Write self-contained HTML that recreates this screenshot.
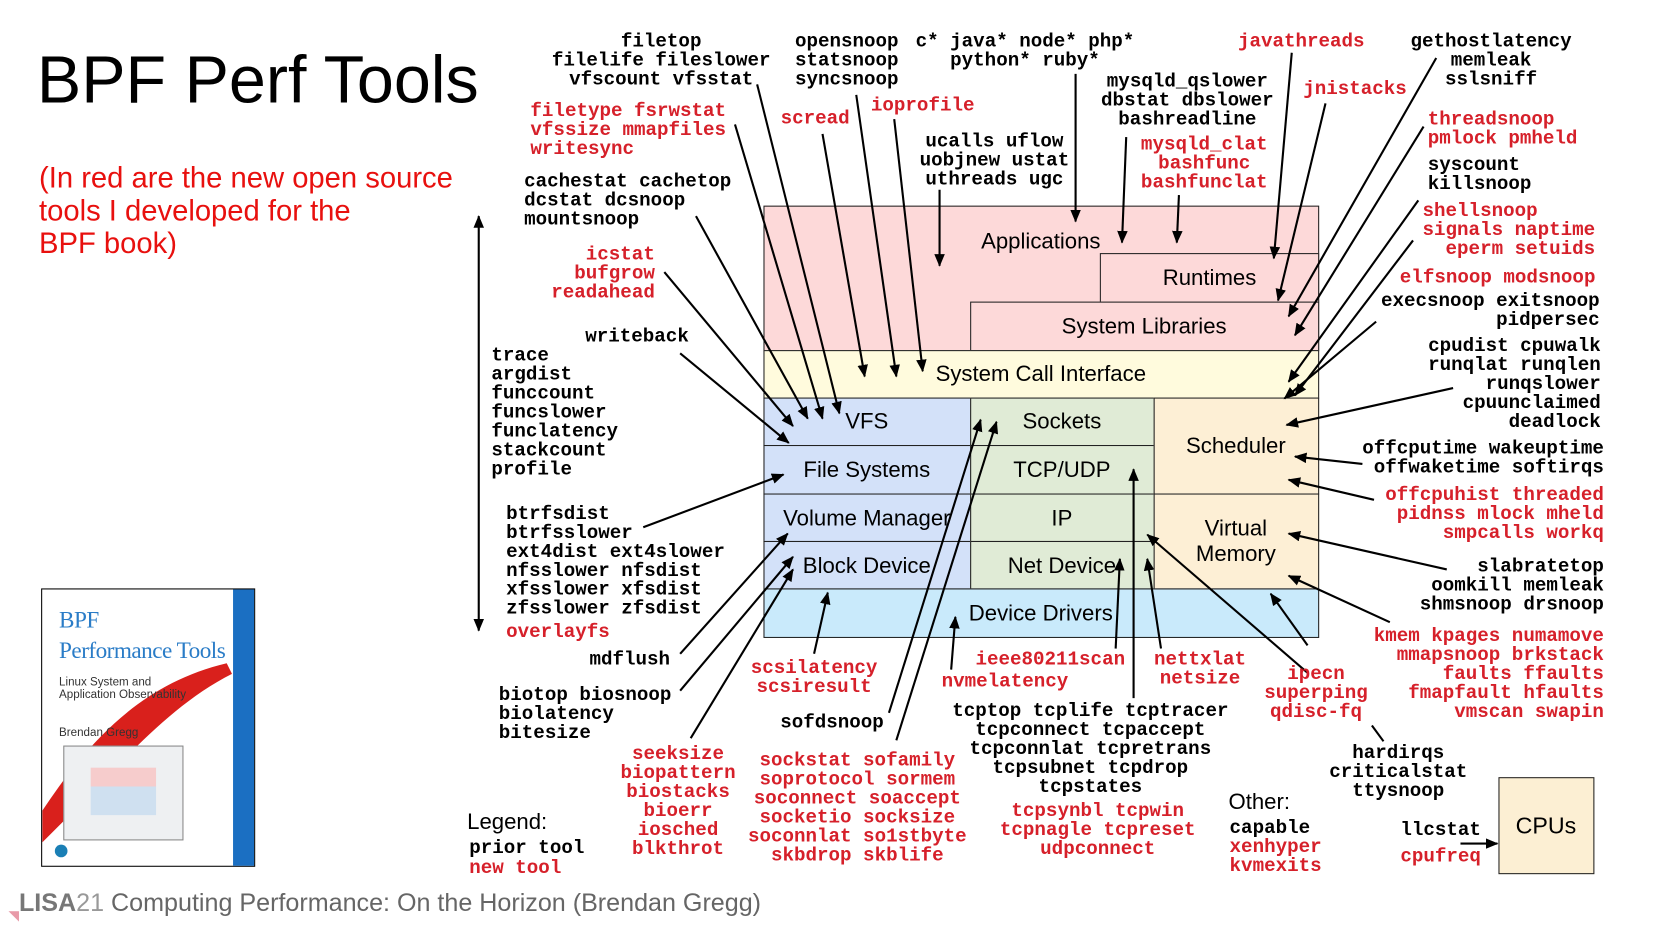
<!DOCTYPE html>
<html><head><meta charset="utf-8"><style>
html,body{margin:0;padding:0;background:#fff;overflow:hidden;width:1654px;height:931px}
#w{position:absolute;left:0;top:0;width:1570px;height:883px;transform:scale(1.0545);transform-origin:0 0}
.t{position:absolute;font:bold 18.2px/18px "Liberation Mono",monospace;white-space:pre;color:#000;margin-top:2px}
.r{color:#d6202a}
.c{transform:translateX(-50%);text-align:center}
.ra{transform:translateX(-100%);text-align:right}
.s{position:absolute;font:21px "Liberation Sans",sans-serif;white-space:pre}
.bx{position:absolute;border:1.5px solid #222;box-sizing:border-box}
.lb{position:absolute;font:21px/21px "Liberation Sans",sans-serif;transform:translate(-50%,-50%);text-align:center;white-space:pre;margin-top:1px}
</style></head><body><div id="w">
<div class="s" style="left:35px;top:40px;font-size:63px">BPF Perf Tools</div>
<div class="s" style="left:37px;top:153px;font-size:27.7px;line-height:31px;color:#e8100e">(In red are the new open source
tools I developed for the
BPF book)</div>

<div class="bx" style="left:724px;top:195px;width:527px;height:138px;background:#fdd9d9"></div>
<div class="bx" style="left:1043px;top:240px;width:208px;height:47px;background:#fdd9d9"></div>
<div class="bx" style="left:920px;top:286px;width:331px;height:47px;background:#fdd9d9"></div>
<div class="bx" style="left:724px;top:332px;width:527px;height:46px;background:#fffbdd"></div>
<div class="bx" style="left:724px;top:377px;width:197px;height:46px;background:#d3e1f9"></div>
<div class="bx" style="left:724px;top:422px;width:197px;height:47px;background:#d3e1f9"></div>
<div class="bx" style="left:724px;top:468px;width:197px;height:46px;background:#d3e1f9"></div>
<div class="bx" style="left:724px;top:513px;width:197px;height:46px;background:#d3e1f9"></div>
<div class="bx" style="left:920px;top:377px;width:175px;height:46px;background:#e0ebd6"></div>
<div class="bx" style="left:920px;top:422px;width:175px;height:47px;background:#e0ebd6"></div>
<div class="bx" style="left:920px;top:468px;width:175px;height:46px;background:#e0ebd6"></div>
<div class="bx" style="left:920px;top:513px;width:175px;height:46px;background:#e0ebd6"></div>
<div class="bx" style="left:1094px;top:377px;width:157px;height:92px;background:#fdefd5"></div>
<div class="bx" style="left:1094px;top:468px;width:157px;height:91px;background:#fdefd5"></div>
<div class="bx" style="left:724px;top:558px;width:527px;height:47px;background:#c9eafb"></div>
<div class="bx" style="left:1421px;top:737px;width:91px;height:92px;background:#fcefd3"></div>

<div class="lb" style="left:987px;top:228px">Applications</div>
<div class="lb" style="left:1147px;top:263px">Runtimes</div>
<div class="lb" style="left:1085px;top:309px">System Libraries</div>
<div class="lb" style="left:987px;top:354px">System Call Interface</div>
<div class="lb" style="left:822px;top:399px">VFS</div>
<div class="lb" style="left:822px;top:445px">File Systems</div>
<div class="lb" style="left:822px;top:491px">Volume Manager</div>
<div class="lb" style="left:822px;top:536px">Block Device</div>
<div class="lb" style="left:1007px;top:399px">Sockets</div>
<div class="lb" style="left:1007px;top:445px">TCP/UDP</div>
<div class="lb" style="left:1007px;top:491px">IP</div>
<div class="lb" style="left:1007px;top:536px">Net Device</div>
<div class="lb" style="left:1172px;top:422px">Scheduler</div>
<div class="lb" style="left:1172px;top:513px;line-height:24px">Virtual
Memory</div>
<div class="lb" style="left:987px;top:581px">Device Drivers</div>
<div class="lb" style="left:1466px;top:782px;font-size:22px">CPUs</div>

<div style="position:absolute;left:39px;top:558px;width:203px;height:264px;border:1px solid #000;box-sizing:border-box;background:#fff;overflow:hidden">
<svg width="203" height="264" style="position:absolute;left:0;top:0"><path d="M0 210 C40 150 90 90 175 70 L180 80 C120 110 70 170 40 200 L0 240Z" fill="#d9201c"/></svg>
<div style="position:absolute;right:0;top:0;width:20px;height:264px;background:#1b6fc2"></div>
<div style="position:absolute;left:16px;top:14px;font:22px/29px 'Liberation Serif',serif;color:#2a7cc7;white-space:pre;letter-spacing:-0.5px">BPF
Performance Tools</div>
<div style="position:absolute;left:16px;top:82px;font:11px/12px 'Liberation Sans',sans-serif;color:#333;white-space:pre">Linux System and
Application Observability</div>
<div style="position:absolute;left:16px;top:130px;font:11px 'Liberation Sans',sans-serif;color:#333">Brendan Gregg</div>
<div style="position:absolute;left:20px;top:148px;width:112px;height:88px;border:1px solid #888;background:#eef0f2"><div style="margin:20px 25px;height:45px;background:linear-gradient(#f6cccc 40%,#cfe0f0 40%)"></div></div>
<div style="position:absolute;left:12px;top:242px;width:12px;height:12px;border-radius:50%;background:#1a7fb5"></div>
</div>

<svg width="1570" height="883" style="position:absolute;left:0;top:0">
<defs><marker id="a" viewBox="0 0 12 10" refX="11" refY="5" markerWidth="12" markerHeight="10" markerUnits="userSpaceOnUse" orient="auto-start-reverse"><path d="M0 0L12 5L0 10Z" fill="#000"/></marker></defs>
<g stroke="#000" stroke-width="2" fill="none" marker-end="url(#a)">
<line x1="454" y1="205" x2="454" y2="598" marker-start="url(#a)"/>
<line x1="645" y1="335" x2="748" y2="420"/>
<line x1="630" y1="258" x2="752" y2="404"/>
<line x1="660" y1="205" x2="766" y2="397"/>
<line x1="697" y1="118" x2="780" y2="397"/>
<line x1="718" y1="80" x2="796" y2="392"/>
<line x1="780" y1="127" x2="820" y2="357"/>
<line x1="812" y1="90" x2="850" y2="357"/>
<line x1="848" y1="113" x2="875" y2="352"/>
<line x1="891" y1="180" x2="891" y2="252"/>
<line x1="1020" y1="70" x2="1020" y2="210"/>
<line x1="1068" y1="130" x2="1064" y2="230"/>
<line x1="1118" y1="185" x2="1116" y2="230"/>
<line x1="1225" y1="50" x2="1208" y2="245"/>
<line x1="1257" y1="98" x2="1212" y2="285"/>
<line x1="1362" y1="55" x2="1222" y2="300"/>
<line x1="1350" y1="120" x2="1228" y2="318"/>
<line x1="1345" y1="190" x2="1222" y2="362"/>
<line x1="1340" y1="228" x2="1228" y2="375"/>
<line x1="1305" y1="305" x2="1218" y2="378"/>
<line x1="1378" y1="368" x2="1220" y2="403"/>
<line x1="1292" y1="440" x2="1228" y2="433"/>
<line x1="1303" y1="474" x2="1222" y2="455"/>
<line x1="1372" y1="540" x2="1222" y2="506"/>
<line x1="1318" y1="590" x2="1222" y2="546"/>
<line x1="1240" y1="638" x2="1088" y2="507"/>
<line x1="1240" y1="612" x2="1205" y2="563"/>
<line x1="1101" y1="615" x2="1088" y2="530"/>
<line x1="1075" y1="662" x2="1075" y2="445"/>
<line x1="1058" y1="615" x2="1062" y2="530"/>
<line x1="902" y1="635" x2="906" y2="585"/>
<line x1="850" y1="702" x2="945" y2="400"/>
<line x1="843" y1="676" x2="930" y2="398"/>
<line x1="772" y1="620" x2="785" y2="562"/>
<line x1="655" y1="700" x2="752" y2="540"/>
<line x1="645" y1="655" x2="752" y2="528"/>
<line x1="645" y1="620" x2="747" y2="506"/>
<line x1="610" y1="500" x2="743" y2="450"/>
<line x1="1385" y1="800" x2="1420" y2="800"/>
</g>
<line x1="1312" y1="703" x2="1301" y2="688" stroke="#000" stroke-width="2"/>
</svg>

<div class="t c" style="left:627px;top:29px">filetop
filelife fileslower
vfscount vfsstat</div>
<div class="t c" style="left:803px;top:29px">opensnoop
statsnoop
syncsnoop</div>
<div class="t c" style="left:972px;top:29px">c* java* node* php*
python* ruby*</div>
<div class="t c r" style="left:1234px;top:29px">javathreads</div>
<div class="t c" style="left:1414px;top:29px">gethostlatency
memleak
sslsniff</div>
<div class="t c" style="left:1126px;top:67px">mysqld_qslower
dbstat dbslower
bashreadline</div>
<div class="t c r" style="left:1285px;top:74px">jnistacks</div>
<div class="t r" style="left:503px;top:95px">filetype fsrwstat
vfssize mmapfiles
writesync</div>
<div class="t c r" style="left:773px;top:102px">scread</div>
<div class="t c r" style="left:875px;top:90px">ioprofile</div>
<div class="t r" style="left:1354px;top:103px">threadsnoop
pmlock pmheld</div>
<div class="t c" style="left:943px;top:124px">ucalls uflow
uobjnew ustat
uthreads ugc</div>
<div class="t c r" style="left:1142px;top:127px">mysqld_clat
bashfunc
bashfunclat</div>
<div class="t" style="left:1354px;top:146px">syscount
killsnoop</div>
<div class="t" style="left:497px;top:162px">cachestat cachetop
dcstat dcsnoop
mountsnoop</div>
<div class="t r" style="left:1349px;top:190px">shellsnoop
signals naptime
  eperm setuids</div>
<div class="t r ra" style="left:1513px;top:253px">elfsnoop modsnoop</div>
<div class="t ra" style="left:1517px;top:275px">execsnoop exitsnoop
pidpersec</div>
<div class="t r ra" style="left:621px;top:231px">icstat
bufgrow
readahead</div>
<div class="t" style="left:555px;top:309px">writeback</div>
<div class="t" style="left:466px;top:327px">trace
argdist
funccount
funcslower
funclatency
stackcount
profile</div>
<div class="t ra" style="left:1518px;top:318px">cpudist cpuwalk
runqlat runqlen
runqslower
cpuunclaimed
deadlock</div>
<div class="t ra" style="left:1521px;top:415px">offcputime wakeuptime
offwaketime softirqs</div>
<div class="t r ra" style="left:1521px;top:459px">offcpuhist threaded
pidnss mlock mheld
smpcalls workq</div>
<div class="t ra" style="left:1521px;top:527px">slabratetop
oomkill memleak
shmsnoop drsnoop</div>
<div class="t r ra" style="left:1521px;top:593px">kmem kpages numamove
mmapsnoop brkstack
faults ffaults
fmapfault hfaults
vmscan swapin</div>
<div class="t" style="left:480px;top:477px">btrfsdist
btrfsslower
ext4dist ext4slower
nfsslower nfsdist
xfsslower xfsdist
zfsslower zfsdist</div>
<div class="t r" style="left:480px;top:589px">overlayfs</div>
<div class="t" style="left:559px;top:615px">mdflush</div>
<div class="t" style="left:473px;top:649px">biotop biosnoop
biolatency
bitesize</div>
<div class="t r c" style="left:643px;top:705px">seeksize
biopattern
biostacks
bioerr
iosched
blkthrot</div>
<div class="t r c" style="left:772px;top:623px">scsilatency
scsiresult</div>
<div class="t c" style="left:789px;top:675px">sofdsnoop</div>
<div class="t r c" style="left:953px;top:636px">nvmelatency</div>
<div class="t r c" style="left:996px;top:615px">ieee80211scan</div>
<div class="t r c" style="left:1138px;top:615px">nettxlat
netsize</div>
<div class="t r c" style="left:1248px;top:629px">ipecn
superping
qdisc-fq</div>
<div class="t r c" style="left:813px;top:711px">sockstat sofamily
soprotocol sormem
soconnect soaccept
socketio socksize
soconnlat so1stbyte
skbdrop skblife</div>
<div class="t c" style="left:1034px;top:664px">tcptop tcplife tcptracer
tcpconnect tcpaccept
tcpconnlat tcpretrans
tcpsubnet tcpdrop
tcpstates</div>
<div class="t r c" style="left:1041px;top:759px">tcpsynbl tcpwin
tcpnagle tcpreset
udpconnect</div>
<div class="t c" style="left:1326px;top:704px">hardirqs
criticalstat
ttysnoop</div>
<div class="s" style="left:1165px;top:749px">Other:</div>
<div class="t" style="left:1166px;top:775px">capable</div>
<div class="t r" style="left:1166px;top:793px">xenhyper
kvmexits</div>
<div class="t" style="left:1328px;top:777px">llcstat</div>
<div class="t r" style="left:1328px;top:802px">cpufreq</div>
<div class="s" style="left:443px;top:768px">Legend:</div>
<div class="t" style="left:445px;top:794px">prior tool</div>
<div class="t r" style="left:445px;top:813px">new tool</div>

<div class="s" style="left:18px;top:843px;font-size:23.8px;color:#666"><b style="color:#777">LISA</b><span style="font-weight:200;color:#999">21</span> Computing Performance: On the Horizon (Brendan Gregg)</div>
<svg width="12" height="12" style="position:absolute;left:8px;top:864px"><path d="M0 0L10 0L10 10Z" fill="#e89aa8"/></svg>
</div></body></html>
